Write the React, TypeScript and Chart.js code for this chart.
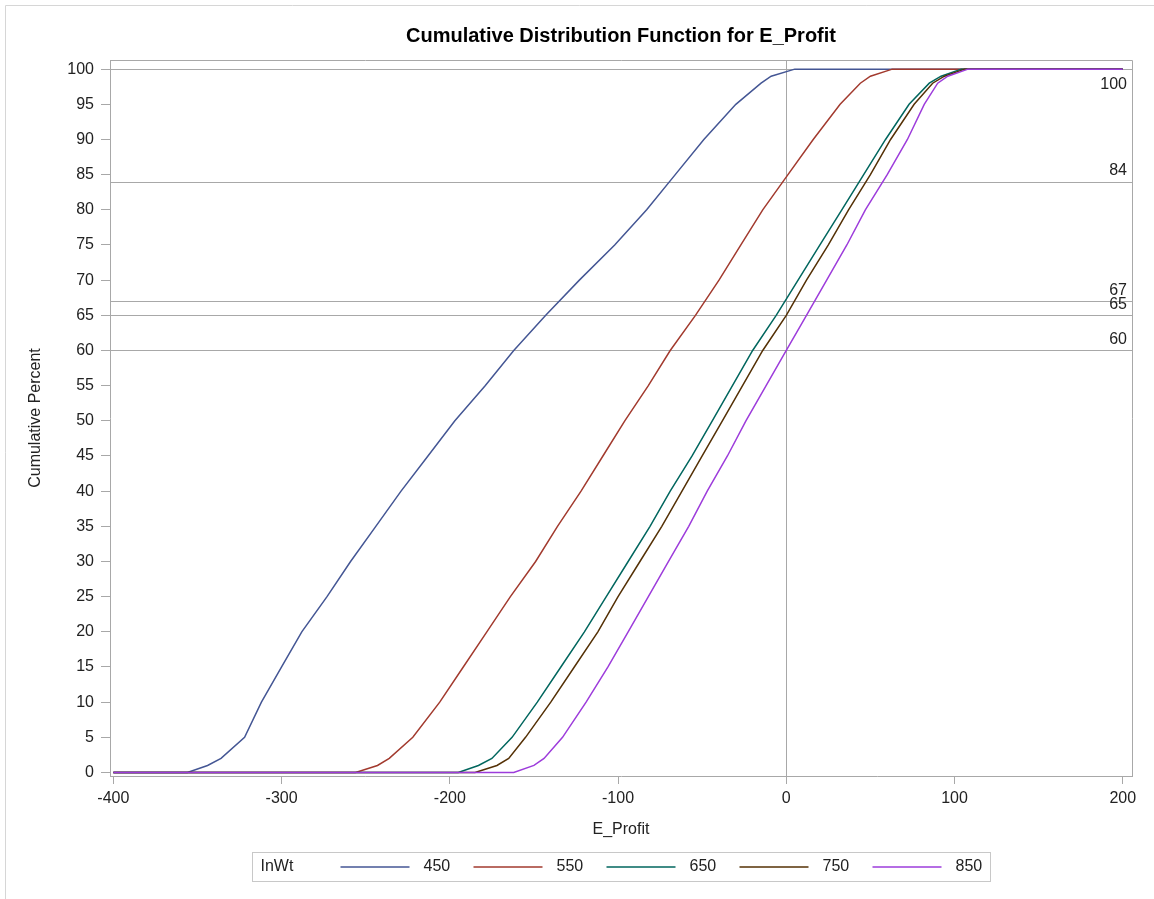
import { useEffect, useRef } from "react";
import { Chart, registerables } from "chart.js";

Chart.register(...registerables);

// ---- Data ----
const chartTitle = "Cumulative Distribution Function for E_Profit";
const xAxisTitle = "E_Profit";
const yAxisTitle = "Cumulative Percent";
const legendTitle = "InWt";

const percentiles = [0, 1, 2, 5, 10, 15, 20, 25, 30, 35, 40, 45, 50, 55, 60, 65, 70, 75, 80, 85, 90, 95, 98, 99, 100];

const profit450 = [-356, -344, -336, -322, -312, -300, -288, -273, -259, -244, -229, -213, -197, -179, -162, -143, -123, -102, -83, -66, -49, -30, -15, -9, 5];
const profit550 = [-256, -243, -236, -222, -206, -192, -178, -164, -149, -136, -122, -109, -96, -82, -69, -54, -40, -27, -14, 1, 16, 32, 44, 50, 63];
const profit650 = [-195, -183, -175, -163, -148, -134, -120, -107, -94, -81, -69, -56, -44, -32, -20, -6, 7, 20, 33, 46, 59, 73, 85, 92, 104];
const profit750 = [-185, -172, -165, -155, -140, -126, -112, -100, -87, -74, -62, -50, -38, -26, -14, 0, 12, 25, 37, 50, 62, 76, 87, 94, 106];
const profit850 = [-162, -150, -144, -133, -119, -106, -94, -82, -70, -58, -47, -35, -24, -12, 0, 12, 24, 36, 47, 60, 72, 82, 90, 96, 108];

const seriesValues = [profit450, profit550, profit650, profit750, profit850];
const groupLabels = ["450", "550", "650", "750", "850"];
const groupColors = ["#445694", "#A23A2E", "#01665E", "#543005", "#9D3CDB"];

const xTicks = [-400, -300, -200, -100, 0, 100, 200];
const yTicks = [0, 5, 10, 15, 20, 25, 30, 35, 40, 45, 50, 55, 60, 65, 70, 75, 80, 85, 90, 95, 100];
const refLevels = [100, 84, 67, 65, 60];
const refX = 0;

// ---- Styles ----
const FONT = "'Liberation Sans', Arial, sans-serif";
const axisColor = "#a8a8a8";
const refColor = "#a8a8a8";
const textColor = "#222222";

const decorPlugin = {
  id: "decor",
  beforeDatasetsDraw(chart: any) {
    const { ctx, chartArea: a, scales } = chart;
    const x = scales.x;
    const y = scales.y;
    ctx.save();
    ctx.strokeStyle = refColor;
    ctx.lineWidth = 1;
    refLevels.forEach((lv) => {
      const py = Math.round(y.getPixelForValue(lv)) + 0.5;
      ctx.beginPath();
      ctx.moveTo(a.left, py);
      ctx.lineTo(a.right, py);
      ctx.stroke();
    });
    const px = Math.round(x.getPixelForValue(refX)) + 0.5;
    ctx.beginPath();
    ctx.moveTo(px, a.top);
    ctx.lineTo(px, a.bottom);
    ctx.stroke();
    ctx.restore();
  },
  afterDraw(chart: any) {
    const { ctx, chartArea: a, scales } = chart;
    const y = scales.y;
    ctx.save();
    // plot frame top & right
    ctx.strokeStyle = axisColor;
    ctx.lineWidth = 1;
    ctx.beginPath();
    ctx.moveTo(a.left, Math.round(a.top) + 0.5);
    ctx.lineTo(Math.round(a.right) + 0.5, Math.round(a.top) + 0.5);
    ctx.lineTo(Math.round(a.right) + 0.5, a.bottom);
    ctx.stroke();

    // ref labels
    ctx.fillStyle = textColor;
    ctx.font = `16px ${FONT}`;
    ctx.textAlign = "right";
    refLevels.forEach((lv) => {
      const py = y.getPixelForValue(lv);
      if (lv >= 100) {
        ctx.textBaseline = "top";
        ctx.fillText(String(lv), a.right - 5, py + 7);
      } else {
        ctx.textBaseline = "bottom";
        ctx.fillText(String(lv), a.right - 5, py - 3);
      }
    });

    // legend
    const boxW = 738;
    const boxH = 29;
    const cx = (a.left + a.right) / 2;
    const bx = Math.round(cx - boxW / 2) + 0.5;
    const by = Math.round(a.bottom + 76) + 0.5;
    ctx.strokeStyle = "#c8c8c8";
    ctx.strokeRect(bx, by, boxW, boxH);
    const my = by + boxH / 2;
    ctx.textAlign = "left";
    ctx.textBaseline = "middle";
    ctx.fillStyle = textColor;
    ctx.fillText(legendTitle, bx + 8, my);
    groupLabels.forEach((lab, i) => {
      const lx = bx + 88 + i * 133;
      ctx.strokeStyle = groupColors[i];
      ctx.lineWidth = 1.5;
      ctx.beginPath();
      ctx.moveTo(lx, my);
      ctx.lineTo(lx + 69, my);
      ctx.stroke();
      ctx.fillStyle = textColor;
      ctx.fillText(lab, lx + 83, my);
    });

    // outer frame
    ctx.strokeStyle = "#d6d6d6";
    ctx.lineWidth = 1;
    ctx.beginPath();
    ctx.moveTo(5.5, chart.height);
    ctx.lineTo(5.5, 5.5);
    ctx.lineTo(chart.width, 5.5);
    ctx.stroke();
    ctx.restore();
  },
};

export default function App() {
  const ref = useRef<HTMLCanvasElement>(null);
  useEffect(() => {
    const canvas = ref.current;
    if (!canvas) return;
    const datasets = seriesValues.map((vals, i) => ({
      label: groupLabels[i],
      data: [
        { x: xTicks[0], y: percentiles[0] },
        ...vals.map((v, j) => ({ x: v, y: percentiles[j] })),
        { x: xTicks[xTicks.length - 1], y: percentiles[percentiles.length - 1] },
      ],
      borderColor: groupColors[i],
      backgroundColor: groupColors[i],
      borderWidth: 1.5,
      pointRadius: 0,
      tension: 0,
      fill: false,
      showLine: true,
      order: groupLabels.length - 1 - i,
    }));
    const tickFont = { family: FONT, size: 16 };
    const chart = new Chart(canvas, {
      type: "scatter",
      data: { datasets },
      plugins: [decorPlugin],
      options: {
        responsive: false,
        animation: false,
        layout: { padding: { left: 0, right: 22, top: 0, bottom: 53 } },
        plugins: {
          legend: { display: false },
          tooltip: { enabled: false },
          title: {
            display: true,
            text: chartTitle,
            fullSize: false,
            color: "#000000",
            font: { family: FONT, size: 20, weight: "bold" },
            padding: { top: 24, bottom: 12 },
          },
        },
        scales: {
          x: {
            type: "linear",
            min: -402,
            max: 205.5,
            afterBuildTicks: (s: any) => {
              s.ticks = xTicks.map((v) => ({ value: v }));
            },
            afterFit: (s: any) => {
              s.height = 70;
            },
            grid: { drawOnChartArea: false, drawTicks: true, tickLength: 8, color: axisColor },
            border: { display: true, color: axisColor },
            ticks: { font: tickFont, color: textColor, padding: 5, maxRotation: 0, autoSkip: false },
            title: {
              display: true,
              text: xAxisTitle,
              color: textColor,
              font: { family: FONT, size: 16 },
              padding: { top: 0, bottom: 6.4 },
            },
          },
          y: {
            type: "linear",
            min: -0.5,
            max: 101.3,
            afterBuildTicks: (s: any) => {
              s.ticks = yTicks.map((v) => ({ value: v }));
            },
            afterFit: (s: any) => {
              s.width = 110;
            },
            grid: { drawOnChartArea: false, drawTicks: true, tickLength: 9, color: axisColor },
            border: { display: true, color: axisColor },
            ticks: { font: tickFont, color: textColor, padding: 7, autoSkip: false },
            title: {
              display: true,
              text: yAxisTitle,
              color: textColor,
              font: { family: FONT, size: 16 },
              padding: { top: 26, bottom: 0 },
            },
          },
        },
      } as any,
    });
    return () => chart.destroy();
  }, []);
  return (
    <div style={{ position: "absolute", left: 0, top: 0, width: 1154, height: 899, background: "#fff" }}>
      <canvas ref={ref} width={1154} height={899} style={{ display: "block" }} />
    </div>
  );
}
